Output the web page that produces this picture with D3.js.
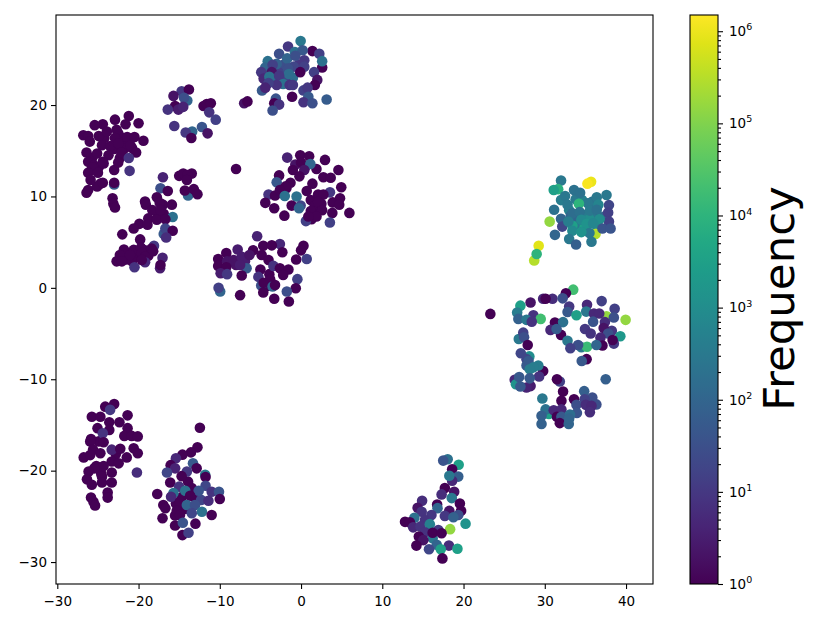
<!DOCTYPE html>
<html>
<head>
<meta charset="utf-8">
<script src="https://cdn.jsdelivr.net/npm/d3@7"></script>
<style>
	html, body { margin: 0; padding: 0; background: #fff; }
	text { font-family: "DejaVu Sans", sans-serif; fill: #000; }
</style>
</head>
<body>
<div id="chart"></div>
<script>
// every row is [x, y, frequency], one list per t-SNE blob
let blobTopLeft = [
	[-22.2,16.5,1],[-21.5,15.9,1],[-23,15.2,1],[-22.5,16.9,1],[-24.2,16.4,1],[-20.8,15.3,1],[-21.8,15.2,1],[-25.7,14.2,1],[-24.9,13.2,1],[-22.3,14.2,1],
	[-21.2,18.8,1],[-22.9,18.4,1],[-20,18,1],[-21.6,17.9,1],[-24.4,17.9,1],[-25.4,17.8,1],[-26.8,16.7,1],[-26.2,16.6,1],
	[-26,16,1],[-24.9,16.6,1],[-23.9,17.1,1],[-22.7,17.3,1],[-22.9,16.4,1],[-21.4,16.5,1],[-20.5,16.5,1],[-19.4,16.1,1],
	[-24.5,15.6,1],[-23.5,15.5,1],[-22.5,15.8,1],[-21,15.6,1],[-26.4,14.8,1],[-25.1,14.7,1],[-23.7,14.5,1],[-22.1,14.8,1],
	[-20.3,14.8,1],[-21.2,14.2,8],[-26.2,13.8,1],[-25.5,13.4,1],[-24.3,13.6,1],[-23,12.9,1],[-21.1,12.8,8],[-26.2,10.7,1],
	[-26.4,10.4,1],[-24.7,11.4,1],[-25.1,11.1,1],[-24.4,11.5,1],[-23,11.3,50],[-23,11.5,1],[-23.2,9.8,1],[-23.1,9.2,1],
	[-22.9,8.8,1],[-25.7,13.2,1],[-26.2,12.6,1],[-25,12.6,1],[-24.4,13.8,1],[-22.5,13.7,1],[-25.9,11.8,1]
];
let blobTopSmall = [
	[-14.7,21.5,10],[-13.8,21.7,1],[-15.7,21,2],[-14,20.5,100],[-14.4,20.8,30],[-15.5,19.9,1],[-16.4,19.5,8],[-15.1,19.5,3],
	[-14.5,19.8,4],[-12,19.9,1],[-11.6,20.1,1],[-11.1,20.2,1],[-11.3,19.2,8],[-10.5,18.4,15],[-15.6,17.7,8],[-13.4,17.1,100],
	[-14.2,17,10],[-13.5,16.4,1],[-12.2,17.6,40],[-11.5,16.9,2],[-7,20.2,2],[-6.6,20.4,1]
];
let blobTopCentre = [
	[-2.5,23.7,15],[-1,23,150],[-2,24.5,30],[-3.3,22.9,100],[-0.3,24.4,10],[-4.2,22.4,10],[-2,22.8,20],
	[-0.05,27,300],[-1.6,26.4,10],[1.4,25.9,1],[2.25,25.6,15],[-0.75,25.8,200],[0.2,26,50],[-2.7,25.6,30],[-1.7,25.1,100],
	[-0.7,25.4,30],[0.4,24.9,10],[2.6,24.1,1],[2.6,24.8,200],[-4.1,24.8,200],[-3,24.5,80],[-4.4,24.1,100],[-3.5,24.4,15],
	[-0.9,24.2,20],[-1.6,24,30],[0.4,24.2,15],[-1.5,23.4,150],[-0.1,23.6,1],[-4.9,23.6,10],[-3.6,23.6,2],[1.6,23.6,15],
	[-4.6,22.9,5],[-3.9,23.1,200],[-2.7,23.2,10],[2,22.75,2],[-2.2,22.3,200],[-3,22.2,8],[-1.4,22.2,8],[-1,22.2,10],
	[-4,22.4,15],[1.7,22.2,1],[-4.8,21.6,50],[-4.4,21.9,4],[0.3,21.6,15],[0.8,21.9,10],[0.9,20.9,50],[-1.1,20.9,1],
	[-3.1,20.7,40],[-3.3,20.2,1],[-2.7,20.05,8],[0.3,20.3,8],[1.4,20.2,30],[3.15,20.6,60],[-3.5,19.4,30]
];
let blobCentre = [
	[-0.7,13.5,2],[0.5,13.2,1],[1.2,9.6,1],[2.5,9.2,1],[1.7,9,1],[-1.8,10.9,1],[2.2,8.7,1],[1.3,7.5,1],
	[-8,13,1],[-1.7,14.25,4],[-0.1,14.5,1],[1,14.4,1],[0,13.7,1],[2.95,14,1],[1.9,13,1],[1.15,13.55,100],[4.6,12.9,1],
	[-1,12.9,1],[0.4,12.9,2],[2.75,12.1,1],[3.65,12.05,1],[-2.7,12.3,1],[-0.2,12.2,1],[-3,11.55,50],[1.4,11.4,1],[-1.3,11.5,1],
	[-1.9,11.1,1],[4.95,11,1],[0.7,10.6,1],[-4,10.2,8],[-3.2,10.1,1],[-2.6,10.7,1],[-2,10.05,200],[-0.55,10,200],[3.56,10.45,10],
	[2.1,10.2,1],[2.75,10.2,1],[4.8,9.8,1],[-4.4,9.3,1],[-3.3,8.7,1],[-1.15,9,1],[-0.05,9,20],[-0.25,8.7,100],[2.1,9.4,1],
	[3.9,9.35,1],[4.7,9.1,1],[5.95,8.2,1],[3.85,8.2,1],[1.2,8.4,1],[2.6,8.5,1],[-2.05,7.9,1],[0.6,7.3,15],[1.9,7.8,1],
	[0.9,7.8,1],[3.55,7.15,15]
];
let blobLeftMiddle = [
	[-20,3.5,1],[-21.5,3.1,1],[-20.8,2.9,1],[-19.2,4.1,1],[-18.8,3.5,1],[-16.9,8.1,1],[-17.6,7.8,1],[-17,9.1,1],
	[-17,12.1,4],[-15,12.25,1],[-14.5,12.5,1],[-13.45,12.5,1],[-14,12.35,1],[-14.05,11.8,1],[-17.3,10.9,30],[-16.4,10.6,1],
	[-13.9,10.1,100],[-14.3,10.65,1],[-13.2,10.8,1],[-12.75,10.25,1],[-17.75,9.9,1],[-19.2,9.45,1],[-17.4,9.3,1],[-19.1,9.1,1],
	[-15.9,9.1,1],[-18.3,8.5,1],[-17.3,8.5,1],[-15.8,7.75,200],[-18.8,7.6,1],[-17.75,7.45,1],[-16.7,7.5,1],[-19.9,7,1],
	[-18.9,6.9,1],[-20.6,6.5,1],[-16.9,5.9,50],[-16.7,6.5,20],[-15.8,6.25,1],[-16.6,5.5,6],[-22,5.85,1],[-19.8,5.3,1],
	[-18.1,4.6,10],[-21.8,4.2,1],[-20.6,4.15,1],[-19.7,4.4,1],[-18.4,4.3,1],[-22.3,3.6,1],[-21.05,3.6,1],[-19.6,3.8,1],
	[-18.2,4,1],[-22.7,2.9,1],[-22.05,2.9,1],[-19.2,3.4,1],[-17.05,3.3,4],[-20.5,2.25,8],[-19.2,2.8,5],[-19.6,3.05,1],
	[-17.35,2.15,3],[-17.3,2.5,1]
];
let blobMiddle = [
	[-7.7,2.9,3],[-8,2.5,2],[-6.9,2.9,3],[-3.9,1.5,1],[-4.1,0.2,1],
	[-5.4,5.65,4],[-10.2,3.15,1],[-9.2,3.8,1],[-7.8,4.2,3],[-5.9,4.1,1],[-4.65,4.6,1],[-2.6,4.8,5],[-3.6,4.65,1],[0.3,4.6,1],
	[0,4.1,1],[-2.3,3.9,1],[-9.1,2.9,2],[-8.3,3.05,2],[-7.3,3.4,3],[-6.35,3.6,2],[-4.85,3.6,1],[-10.2,2.4,1],[-9.2,2.25,1],
	[-6.7,2.15,50],[-7.5,2.5,3],[-4,3.05,1],[-0.6,3.1,1],[0.7,3.15,15],[-3.4,2.4,8],[-5,2,1],[-2.6,2.15,1],[-1.55,2,1],
	[-9.9,1.6,3],[-9.1,1.5,10],[-7.3,1.35,1],[-2.2,1.4,1],[-5.25,1.2,8],[-0.45,0.95,15],[-3.8,0.95,1],[-4.9,0.25,30],
	[-4.6,0.55,1],[-3.5,0.15,100],[-3.2,0.3,1],[-0.65,-0.05,1],[-9.95,-0.4,100],[-10.15,0,15],[-4.65,-0.5,1],[-1.75,-0.4,30],
	[-7.5,-0.8,1],[-3.3,-1.2,1],[-1.5,-1.5,1]
];
let blobRightTop = [
	[34.7,8,300],[35,7.8,400],[33.8,7.7,100],[36,8,300],[33,8.5,500],[34,6.8,300],[36.5,6.6,800],[33.2,7.9,100],[35.5,7.5,1000],[34.9,6.6,3000],
	[37.3,7.8,100],[33.8,9.7,300],[34.6,9.6,500],[35.8,9.4,200],[32,9.6,400],
	[32,11.75,300],[35.7,11.6,1000000],[35.25,11.4,1300000],[31.65,10.8,8000],[31.1,10.7,3000],[33.6,10.7,200],[34.35,10.4,200],
	[32.5,10.05,300],[37.6,10.15,300],[36.4,9.9,300],[37.9,9.05,20],[32.8,9.1,300],[35.3,9.25,300],[36.6,9.1,600],[34.2,9.2,10000],
	[31.15,8.55,200],[33.4,8.15,150],[34.3,8.3,200],[35.55,8.45,300],[36.4,8.55,200],[37.8,8.25,15],[30.6,7.25,150000],[32,7.55,100],
	[37.9,7.25,15],[32.15,6.7,20],[36.25,5.9,300000],[33.4,6.8,3000],[32.9,7.25,400],[34.5,7.45,800],[36.75,7.5,1000],[35.15,7,1500],
	[35.95,7.05,700],[37.1,6.5,40],[38.1,6.5,40],[33.4,6.25,800],[35.5,6,300],[34.5,6.1,1500],[31.25,5.8,100],[33,5.35,300],
	[35.75,5.05,300],[33.85,4.75,70],[29.25,4.6,800000],[28.7,3,300000],[29,3.7,10000]
];
let blobRightMiddle = [
	[23.3,-2.85,1],[33.5,-0.2,20000],[32.6,-0.6,1],[29.8,-1.2,5],[30.95,-1.2,6],[30.1,-1.2,1],[32.2,-1.15,30],[28.25,-1.6,2],[27,-1.95,3000],
	[33,-2.05,10],[35.2,-1.85,5],[37,-1.45,15],[38.6,-2.3,15],[26.6,-2.7,400],[32.8,-2.65,50],[28.6,-3,8],[33.9,-3,3000],[35.1,-2.6,300],
	[37.6,-3.1,150000],[36.05,-2.8,5],[36.7,-2.8,5],[39.95,-3.5,150000],[38.5,-3.25,30],[26.75,-3.4,80],[27.75,-3.5,300],[29.5,-3.4,20000],
	[28.4,-3.7,8],[35.95,-3.7,40],[37.4,-3.75,6],[31.25,-3.8,1],[32.25,-3.75,200],[32,-5.15,1],[30.7,-4.6,5],[31.45,-4.5,60],[34.95,-4.5,10],
	[35.65,-5,8],[38.25,-4.7,10],[37.25,-4.4,2],[37.8,-5,30],[26.8,-5.6,300],[27.35,-4.9,15],[27.45,-5.4,30],[39.3,-5.3,2000],[38.5,-6.1,10],
	[38.35,-5.7,1],[36.85,-5.45,5],[32.8,-5.8,300],[27.9,-6.25,1],[34.5,-6.5,300],[35.2,-6.45,15000],[34.1,-6.25,30],[33.15,-6.6,15],
	[37.1,-6.3,1],[36.35,-6.25,100],[35.15,-7.8,1],[34.55,-8,50],[28.1,-7.5,1000],[27.05,-7.15,20],[27.75,-7.8,20],[27.75,-8.5,50],[28,-8,50],
	[29.8,-9.1,1],[29.3,-9.7,8],[29.2,-8.5,400],[28.6,-8.7,400],[28.15,-8.9,400],[26.3,-10.05,5],[26.45,-10.55,1500],[28.25,-10.75,3],
	[27.75,-10.9,4],[26.85,-9.75,50],[28.15,-9.9,50],[27,-10.8,50],[31.85,-10.25,15],[31.5,-10,1],[37.5,-10,70]
];
let blobRightBottom = [
	[32.25,-11.35,1],[34.85,-11.3,70],[29.7,-12.1,300],[32.05,-12.35,1],[33.6,-12.2,1],[35.85,-12,30],[34.9,-12.2,15],[36.35,-12.75,30],
	[33.9,-12.8,30],[35.05,-12.8,6],[35.75,-12.9,5],[30.5,-13.8,3000],[30.1,-13.3,200],[31.1,-13.4,5],[33.95,-13.7,40],[32.05,-13.3,5],
	[35.55,-13.6,6],[31.5,-14.1,1],[32.05,-14.1,50],[29.6,-14,70],[33.1,-13.85,150],[29.6,-14.9,80],[31.85,-14.8,1],[32.95,-14.9,100],
	[33,-14.3,100]
];
let blobBottomLeft = [
	[-24.9,-16.8,1],[-25.2,-19.5,1],[-24.6,-20.3,1],[-22.8,-18.2,1],
	[-23,-12.7,1],[-24.1,-13,1],[-23.5,-13.35,10],[-21.35,-13.95,1],[-25.75,-14.1,1],[-24.7,-14.1,1],[-23.6,-14.7,1],[-22.35,-14.7,1],
	[-25.05,-15.35,1],[-21.35,-15.35,1],[-23.6,-15.55,1],[-24.4,-15.9,8],[-21.75,-16.2,1],[-20.85,-16.2,1],[-20.1,-16.25,1],[-25.85,-16.55,1],
	[-25.95,-16.8,1],[-24.3,-16.9,1],[-20.6,-17.55,1],[-20.1,-18.1,1],[-23.3,-17.7,4],[-22.25,-17.6,1],[-25.6,-17.7,1],[-24.7,-18.1,1],
	[-26.75,-18.55,1],[-25.95,-18.3,1],[-23.3,-19,1],[-22.45,-19.2,1],[-21.45,-18.55,1],[-24.3,-19.5,1],[-25.45,-19.75,1],[-26.15,-20.1,1],
	[-23.3,-20.2,1],[-20.2,-20.2,6],[-26.35,-20.95,1],[-24.5,-20.65,1],[-24.5,-21.3,1],[-23.3,-21.3,1],[-25.75,-21.55,1],[-23.8,-22.4,1],
	[-23.8,-22.95,1],[-25.85,-22.95,1],[-25.55,-23.4,1],[-25.35,-23.8,1]
];
let blobBottomMiddle = [
	[-13.9,-21.2,1],[-15.5,-24.9,1],[-14.3,-24.2,1],[-13,-23,1],[-12.3,-23.2,20],[-14.7,-22.9,1],[-15.4,-23.6,1],
	[-12.45,-15.3,1],[-12.75,-17.45,1],[-13.55,-18,1],[-14.6,-18.25,1],[-15.4,-18.65,5],[-13.3,-19.2,50],[-16.05,-19.4,1],[-15.5,-19.75,4],
	[-12.85,-19.75,1],[-14.05,-20.1,10],[-16.5,-20.2,20],[-11.8,-20.45,300],[-11.75,-20.7,1],[-16.1,-21.3,1],[-14.7,-20.6,1],[-17.7,-22.55,1],
	[-15,-21.75,8],[-13.45,-21.9,1],[-14.25,-22.2,200],[-15.7,-22.45,200],[-11.75,-21.65,20],[-11,-22.3,8],[-10.1,-22.3,40],[-12.6,-22.2,40],
	[-16,-22.85,5],[-13.65,-22.75,1],[-11.4,-23.3,6],[-10,-23.1,1],[-16.95,-23.75,1],[-16.7,-24.1,1],[-14.9,-23.4,1],[-14.05,-23.75,100],
	[-13.05,-23.75,30],[-15.3,-24.4,1],[-12.2,-24.5,200],[-13.45,-24.65,20],[-11,-24.85,1],[-17.05,-25.2,1],[-14.9,-24.85,1],[-13,-25.8,1],
	[-15.5,-26,1],[-14.55,-25.7,40],[-14.6,-27.05,1],[-13.85,-26.8,15]
];
let blobBottomRight = [
	[18.05,-18.75,200],[17.5,-18.9,40],[19.4,-19.35,3000],[18.6,-19.85,1],[19.35,-20.65,70],[18.6,-21.1,5],[18.25,-20.55,300],[17.7,-21.9,1],
	[18.85,-22.3,2],[17.3,-22.6,6],[18.55,-23,300],[14.9,-23.3,6],[19.55,-23.6,1],[16.75,-23.7,1],[16.8,-24.1,100],[14.35,-24.05,2],
	[14.85,-24.5,8],[18.25,-24.4,2],[19.7,-24.4,1],[19.35,-24.85,30],[17.7,-24.95,10],[18.75,-25.1,80],[16.05,-24.85,10],[13.95,-25.15,200],
	[20.25,-25.8,1500],[12.8,-25.6,1],[13.4,-25.65,1],[15.25,-25.4,8],[13.8,-26.2,5],[14.7,-26.1,8],[15.85,-25.85,500],[16.9,-26.5,10],
	[18.35,-26.4,150000],[15.25,-26.75,8],[16.2,-27.4,300],[16.2,-26.8,1],[17.3,-26.85,1],[14.5,-27.2,1],[15.05,-27.6,2],[14.2,-28.2,1],
	[16.7,-28.1,100],[15.75,-28.6,20],[18.2,-28.2,6],[17.2,-28.6,3000],[19.25,-28.55,3000],[17.4,-29.6,1]
];

let xTicks = [-30, -20, -10, 0, 10, 20, 30, 40];
let yTicks = [-30, -20, -10, 0, 10, 20];
let freqDecades = [1, 10, 100, 1000, 10000, 100000, 1000000];
let freqExponents = [0, 1, 2, 3, 4, 5, 6];
let colorbarLabel = 'Frequency';

let points = [].concat(blobTopLeft, blobTopSmall, blobTopCentre, blobCentre, blobLeftMiddle, blobMiddle,
	blobRightTop, blobRightMiddle, blobRightBottom, blobBottomLeft, blobBottomMiddle, blobBottomRight);

let width = 830,
	height = 623,
	plot = { left: 56, right: 653, top: 15, bottom: 584 },
	bar = { left: 690, right: 718 },
	fontSize = 13.5;

let freqMax = 1500000;

let svg = d3.select('#chart').append('svg')
	.attr('width', width)
	.attr('height', height)
	.style('display', 'block');

let xScale = d3.scaleLinear().domain([-30.16, 43.32]).range([plot.left, plot.right]);
let yScale = d3.scaleLinear().domain([-32.4, 29.85]).range([plot.bottom, plot.top]);
let freqScale = d3.scaleLog().domain([1, freqMax]).range([plot.bottom, plot.top]);
let colorScale = d3.scaleSequentialLog(d3.interpolateViridis).domain([1, freqMax]);

//Points
svg.append('g')
	.selectAll('circle')
	.data(points)
	.enter()
	.append('circle')
	.attr('cx', (d) => xScale(d[0]))
	.attr('cy', (d) => yScale(d[1]))
	.attr('r', 5.3)
	.attr('fill', (d) => colorScale(d[2]));

//Axes
let styleAxis = (g) => {
	g.selectAll('.domain').remove();
	g.selectAll('line').attr('stroke', '#000').attr('stroke-width', 1.1);
	g.selectAll('text').style('font-family', '"DejaVu Sans", sans-serif').style('font-size', fontSize + 'px');
};

svg.append('g')
	.attr('transform', 'translate(0,' + plot.bottom + ')')
	.call(d3.axisBottom(xScale).tickValues(xTicks).tickSize(5).tickPadding(7))
	.call(styleAxis);

svg.append('g')
	.attr('transform', 'translate(' + plot.left + ',0)')
	.call(d3.axisLeft(yScale).tickValues(yTicks).tickSize(5).tickPadding(4))
	.call(styleAxis);

svg.append('rect')
	.attr('x', plot.left)
	.attr('y', plot.top)
	.attr('width', plot.right - plot.left)
	.attr('height', plot.bottom - plot.top)
	.attr('fill', 'none')
	.attr('stroke', '#000')
	.attr('stroke-width', 1.1);

//Colorbar gradient
let gradient = svg.append('defs')
	.append('linearGradient')
	.attr('id', 'viridisBar')
	.attr('x1', '0%')
	.attr('y1', '100%')
	.attr('x2', '0%')
	.attr('y2', '0%');

gradient.selectAll('stop')
	.data(d3.range(0, 1.001, 0.05))
	.enter()
	.append('stop')
	.attr('offset', (d) => (d * 100) + '%')
	.attr('stop-color', (d) => d3.interpolateViridis(d));

svg.append('rect')
	.attr('x', bar.left)
	.attr('y', plot.top)
	.attr('width', bar.right - bar.left)
	.attr('height', plot.bottom - plot.top)
	.attr('fill', 'url(#viridisBar)')
	.attr('stroke', '#000')
	.attr('stroke-width', 1.1);

let minorTicks = [];
freqDecades.forEach((decade) => {
	[2, 3, 4, 5, 6, 7, 8, 9].forEach((m) => {
		if (decade * m <= freqMax) minorTicks.push(decade * m);
	});
});

svg.append('g')
	.attr('transform', 'translate(' + bar.right + ',0)')
	.call(d3.axisRight(freqScale).tickValues(minorTicks).tickSize(3).tickFormat(''))
	.call(styleAxis);

let barAxis = svg.append('g')
	.attr('transform', 'translate(' + bar.right + ',0)')
	.call(d3.axisRight(freqScale).tickValues(freqDecades).tickSize(5).tickPadding(6).tickFormat(''))
	.call(styleAxis);

// 10 with a raised exponent, one tspan each
barAxis.selectAll('.tick text')
	.data(freqExponents)
	.each(function(d) {
		let label = d3.select(this);
		label.append('tspan').text('10');
		label.append('tspan')
			.attr('dy', '-0.6em')
			.style('font-size', '9.5px')
			.text(d);
	});

svg.append('text')
	.attr('transform', 'translate(794,298.5) rotate(-90)')
	.attr('text-anchor', 'middle')
	.style('font-size', '43.5px')
	.text(colorbarLabel);
</script>
</body>
</html>
